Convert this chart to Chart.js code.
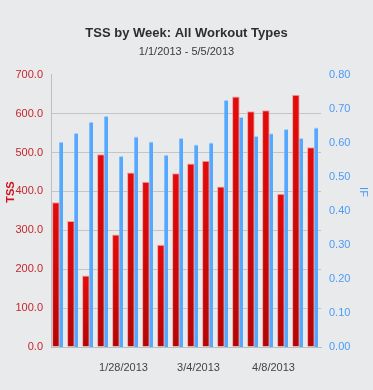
<!DOCTYPE html>
<html>
<head>
<meta charset="utf-8">
<script src="https://cdn.jsdelivr.net/npm/chart.js@4.4.1/dist/chart.umd.min.js"></script>
<style>
  html, body { margin: 0; padding: 0; background: #e9eaec; }
  #wrap { width: 373px; height: 390px; }
</style>
</head>
<body>
<div id="wrap"><canvas id="tssChart"></canvas></div>
<script>
// Semanas (lunes) del 1/1/2013 al 5/5/2013
var weeks = ['12/31/2012', '1/7/2013', '1/14/2013', '1/21/2013', '1/28/2013', '2/4/2013',
             '2/11/2013', '2/18/2013', '2/25/2013', '3/4/2013', '3/11/2013', '3/18/2013',
             '3/25/2013', '4/1/2013', '4/8/2013', '4/15/2013', '4/22/2013', '4/29/2013'];

// TSS por semana
var tssValues = [372, 324, 184, 496, 289, 449, 425, 263, 447, 472, 479, 413, 644, 606, 609, 394, 649, 514];

// IF por semana
var ifValues = [0.603, 0.629, 0.662, 0.679, 0.561, 0.619, 0.604, 0.565, 0.614,
                0.595, 0.601, 0.726, 0.676, 0.620, 0.628, 0.641, 0.614, 0.645];

// Etiquetas visibles del eje X
var xTickLabels = ['1/28/2013', '3/4/2013', '4/8/2013'];

var tssMax = 700, tssStep = 100;
var ifMax = 0.8, ifStep = 0.1;

var FONT = "'Liberation Sans', Arial, sans-serif";

// degradado vertical por barra (rojo)
function redFill(c) {
  var chart = c.chart;
  var y = chart.scales && chart.scales.y;
  if (!y || c.raw === undefined) return '#d00808';
  var top = y.getPixelForValue(c.raw);
  var bottom = y.getPixelForValue(0);
  if (!isFinite(top) || !isFinite(bottom) || top === bottom) return '#d00808';
  var g = chart.ctx.createLinearGradient(0, top, 0, bottom);
  g.addColorStop(0, '#e50b0b');
  g.addColorStop(1, '#b20606');
  return g;
}

// títulos de los ejes dibujados a mano
var axisTitles = {
  id: 'axisTitles',
  afterDraw: function(chart) {
    var ctx = chart.ctx;
    ctx.save();
    ctx.textAlign = 'center';
    ctx.textBaseline = 'middle';
    ctx.font = 'bold 11px ' + FONT;
    ctx.fillStyle = '#d0101a';
    ctx.translate(11, 192);
    ctx.rotate(-Math.PI / 2);
    ctx.fillText('TSS', 0, 0);
    ctx.restore();

    ctx.save();
    ctx.textAlign = 'center';
    ctx.textBaseline = 'middle';
    ctx.font = '11px ' + FONT;
    ctx.fillStyle = '#4a9cf5';
    ctx.translate(363, 192);
    ctx.rotate(Math.PI / 2);
    ctx.fillText('IF', 0, 0);
    ctx.restore();
  }
};

var ctx = document.getElementById('tssChart').getContext('2d');
var tssChart = new Chart(ctx, {
  type: 'bar',
  data: {
    labels: weeks,
    datasets: [
      {
        label: 'TSS',
        data: tssValues,
        yAxisID: 'y',
        backgroundColor: redFill,
        borderColor: 'rgba(238,150,150,0.8)',
        borderWidth: 1,
        categoryPercentage: 0.7,
        barPercentage: 1.45
      },
      {
        label: 'IF',
        data: ifValues,
        yAxisID: 'y1',
        backgroundColor: '#55a8ff',
        borderColor: 'rgba(160,205,255,0.9)',
        borderWidth: { top: 1, left: 0, right: 0 },
        categoryPercentage: 0.7,
        barPercentage: 0.74
      }
    ]
  },
  options: {
    responsive: true,
    maintainAspectRatio: false,
    animation: false,
    layout: { padding: 0 },
    plugins: {
      legend: { display: false },
      tooltip: { enabled: false },
      title: {
        display: true,
        text: 'TSS by Week: All Workout Types',
        color: '#2e2e2e',
        font: { family: FONT, size: 13, weight: 'bold' },
        padding: { top: 26, bottom: 4 }
      },
      subtitle: {
        display: true,
        text: '1/1/2013 - 5/5/2013',
        color: '#3a3a3a',
        font: { family: FONT, size: 11 },
        padding: { top: 0, bottom: 16 }
      }
    },
    scales: {
      x: {
        grid: { display: false },
        border: { display: true, color: '#bdbec0' },
        ticks: {
          autoSkip: false,
          maxRotation: 0,
          color: '#444',
          font: { family: FONT, size: 11 },
          labelOffset: 5,
          padding: 6,
          callback: function(v, i) {
            var lbl = this.getLabelForValue(v);
            return xTickLabels.indexOf(lbl) >= 0 ? lbl : '';
          }
        },
        afterFit: function(s) { s.height = 43; }
      },
      y: {
        position: 'left',
        min: 0,
        max: tssMax,
        grid: {
          drawTicks: false,
          color: function(c) { return c.tick && c.tick.value === tssMax ? 'rgba(0,0,0,0)' : '#c4c5c7'; }
        },
        border: { display: true, color: '#bdbec0' },
        ticks: {
          stepSize: tssStep,
          padding: 8,
          color: '#c4262c',
          font: { family: FONT, size: 11 },
          callback: function(v) { return v.toFixed(1); }
        },
        afterFit: function(s) { s.width = 51; }
      },
      y1: {
        position: 'right',
        min: 0,
        max: ifMax,
        grid: { display: false, drawTicks: false },
        border: { display: false },
        ticks: {
          stepSize: ifStep,
          padding: 8,
          color: '#4a9cf5',
          font: { family: FONT, size: 11 },
          callback: function(v) { return v.toFixed(2); }
        },
        afterFit: function(s) { s.width = 52; }
      }
    }
  },
  plugins: [axisTitles]
});
</script>
</body>
</html>
